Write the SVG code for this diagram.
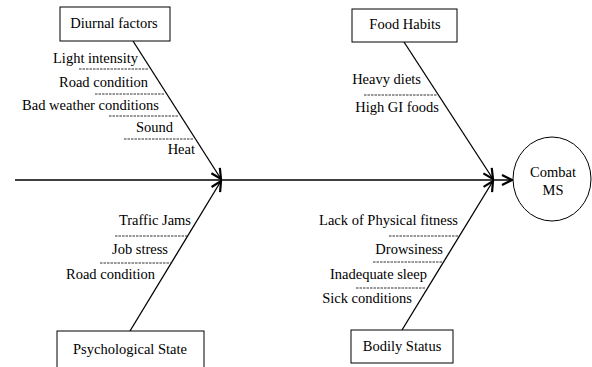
<svg xmlns="http://www.w3.org/2000/svg" width="592" height="367" viewBox="0 0 592 367">
<defs>
<marker id="ah" viewBox="0 0 12 12" refX="11" refY="6" markerWidth="12" markerHeight="12" markerUnits="userSpaceOnUse" orient="auto">
<path d="M1,1 L11,6 L1,11" fill="none" stroke="#000" stroke-width="2.2"/>
</marker>
</defs>
<style>
text{font-family:'Liberation Serif','Times New Roman','DejaVu Serif',serif;font-size:14.5px;fill:#000}
.box{fill:#fff;stroke:#000;stroke-width:1}
.ln{stroke:#000;stroke-width:1.3;fill:none}
.ds{stroke:#333;stroke-width:1;stroke-dasharray:2.5,1;fill:none}
.m{text-anchor:middle}
.e{text-anchor:end}
</style>
<rect width="592" height="367" fill="#fff"/>
<g id="connectors">
<line class="ln" x1="15" y1="180" x2="512" y2="180" marker-end="url(#ah)"/>
<line class="ln" x1="133" y1="41" x2="221" y2="179" marker-end="url(#ah)"/>
<line class="ln" x1="130" y1="331" x2="221" y2="181" marker-end="url(#ah)"/>
<line class="ln" x1="404" y1="42" x2="493" y2="179" marker-end="url(#ah)"/>
<line class="ln" x1="402" y1="330" x2="493" y2="181" marker-end="url(#ah)"/>
</g>
<g id="diurnal">
<rect class="box" x="60" y="7" width="110" height="34"/>
<text class="m" x="114" y="28">Diurnal factors</text>
<text class="e" x="138" y="63">Light intensity</text>
<line class="ds" x1="79" y1="69" x2="148" y2="69"/>
<text class="e" x="148" y="87">Road condition</text>
<line class="ds" x1="95" y1="94" x2="165" y2="94"/>
<text class="e" x="159" y="110">Bad weather conditions</text>
<line class="ds" x1="109" y1="116" x2="179" y2="116"/>
<text class="e" x="173" y="132">Sound</text>
<line class="ds" x1="124" y1="139" x2="194" y2="139"/>
<text class="e" x="195" y="154">Heat</text>
</g>
<g id="food">
<rect class="box" x="352" y="9" width="105" height="33"/>
<text class="m" x="405" y="29">Food Habits</text>
<text class="e" x="421" y="84">Heavy diets</text>
<line class="ds" x1="364" y1="95" x2="437" y2="95"/>
<text class="e" x="439" y="112">High GI foods</text>
</g>
<g id="psych">
<rect class="box" x="57" y="331" width="147" height="40"/>
<text class="m" x="130" y="354">Psychological State</text>
<text class="e" x="191" y="225">Traffic Jams</text>
<line class="ds" x1="115" y1="236" x2="187" y2="236"/>
<text class="e" x="168" y="254">Job stress</text>
<line class="ds" x1="100" y1="263" x2="172" y2="263"/>
<text class="e" x="155" y="279">Road condition</text>
</g>
<g id="bodily">
<rect class="box" x="351" y="330" width="102" height="33"/>
<text class="m" x="402" y="351">Bodily Status</text>
<text class="e" x="458" y="225">Lack of Physical fitness</text>
<line class="ds" x1="389" y1="236" x2="458" y2="236"/>
<text class="e" x="443" y="254">Drowsiness</text>
<line class="ds" x1="373" y1="262" x2="442" y2="262"/>
<text class="e" x="427" y="279">Inadequate sleep</text>
<line class="ds" x1="356" y1="288" x2="426" y2="288"/>
<text class="e" x="412" y="303">Sick conditions</text>
</g>
<g id="combat">
<ellipse class="box" cx="552" cy="179" rx="39" ry="42"/>
<text class="m" x="553" y="177">Combat</text>
<text class="m" x="553" y="195">MS</text>
</g>
</svg>
